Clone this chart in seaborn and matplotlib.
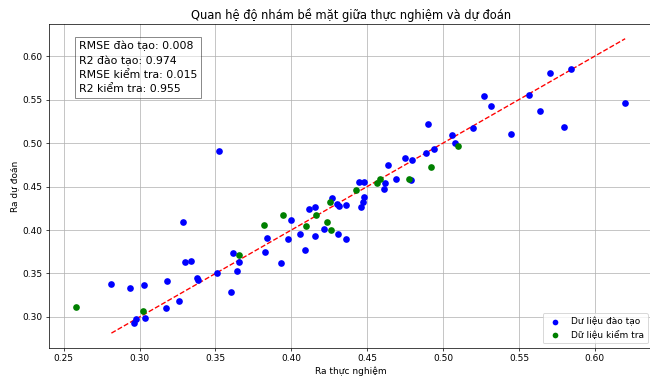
import matplotlib
matplotlib.use("Agg")
import matplotlib.pyplot as plt
import seaborn as sns
import numpy as np
import pandas as pd

# Training data (actual, predicted)
train_actual = [0.2814, 0.2939, 0.3029, 0.2978, 0.2963, 0.3037, 0.3175, 0.3182, 0.3259, 0.3298,
                0.3340, 0.3375, 0.3386, 0.3512, 0.3601, 0.3614, 0.3657, 0.3640, 0.3828, 0.3841,
                0.3289, 0.3933, 0.3999, 0.3977, 0.4054, 0.4089, 0.4117, 0.4154, 0.4154, 0.4218,
                0.4268, 0.4304, 0.4312, 0.4307, 0.4358, 0.4363, 0.4446, 0.4478, 0.4478, 0.4472,
                0.4461, 0.4619, 0.4610, 0.4634, 0.4687, 0.4750, 0.4796, 0.4787, 0.4886, 0.4938,
                0.4901, 0.5059, 0.5081, 0.5194, 0.5269, 0.5319, 0.5449, 0.5567, 0.5637, 0.5707,
                0.5795, 0.5843, 0.6200, 0.3522]
train_pred = [0.3379, 0.3336, 0.3371, 0.2977, 0.2931, 0.2989, 0.3100, 0.3410, 0.3184, 0.3628,
              0.3643, 0.3451, 0.3421, 0.3505, 0.3290, 0.3731, 0.3635, 0.3532, 0.3750, 0.3907,
              0.4087, 0.3616, 0.4110, 0.3899, 0.3956, 0.3766, 0.4243, 0.4263, 0.3933, 0.4007,
              0.4366, 0.4297, 0.4271, 0.3949, 0.3896, 0.4286, 0.4547, 0.4547, 0.4374, 0.4324,
              0.4259, 0.4542, 0.4466, 0.4749, 0.4592, 0.4829, 0.4803, 0.4573, 0.4891, 0.4932,
              0.5219, 0.5093, 0.5006, 0.5173, 0.5537, 0.5431, 0.5109, 0.5557, 0.5373, 0.5809,
              0.5181, 0.5847, 0.5460, 0.4906]

# Test data (actual, predicted)
test_actual = [0.2582, 0.3020, 0.3657, 0.3819, 0.3944, 0.4097, 0.4161, 0.4238, 0.4260, 0.4258,
               0.4424, 0.4562, 0.4582, 0.4777, 0.4919, 0.5100]
test_pred = [0.3111, 0.3072, 0.3712, 0.4060, 0.4175, 0.4045, 0.4168, 0.4087, 0.3999, 0.4324,
             0.4455, 0.4542, 0.4584, 0.4584, 0.4722, 0.4963]

metrics_text = "RMSE đào tạo: 0.008\nR2 đào tạo: 0.974\nRMSE kiểm tra: 0.015\nR2 kiểm tra: 0.955"

df_train = pd.DataFrame({"actual": train_actual, "pred": train_pred})
df_test = pd.DataFrame({"actual": test_actual, "pred": test_pred})

fig = plt.figure(figsize=(10, 381 / 65), dpi=65)
ax = fig.add_subplot(111)
fig.subplots_adjust(left=0.075, right=1.004, bottom=0.087, top=0.937)

sns.scatterplot(data=df_train, x="actual", y="pred", color="blue", s=55, linewidth=0,
                label="Dư liệu đào tạo", ax=ax, zorder=3)
sns.scatterplot(data=df_test, x="actual", y="pred", color="green", s=55, linewidth=0,
                label="Dữ liệu kiểm tra", ax=ax, zorder=3)

lo, hi = min(train_actual), max(train_actual)
ax.plot([lo, hi], [lo, hi], "r--", lw=1.5, zorder=2)

ax.set_title("Quan hệ độ nhám bề mặt giữa thực nghiệm và dự đoán", fontsize=12.75)
ax.set_xlabel("Ra thực nghiệm", fontsize=10)
ax.set_ylabel("Ra dự đoán", fontsize=10)
ax.grid(True, color="#b0b0b0", lw=0.8)
ax.set_axisbelow(True)
ax.legend(loc="lower right", fontsize=10, markerscale=0.85)

ax.text(0.05, 0.95, metrics_text, transform=ax.transAxes, fontsize=12, linespacing=1.55,
        va="top", ha="left", bbox=dict(facecolor="white", alpha=0.5))

fig.savefig("out.png", dpi=65)
